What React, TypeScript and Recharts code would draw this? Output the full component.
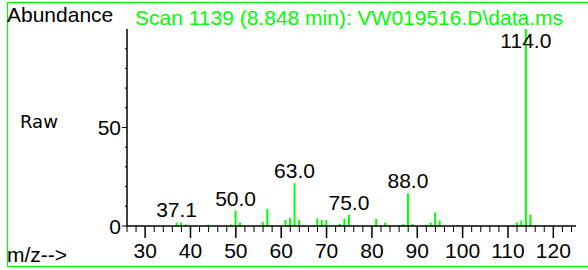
import { BarChart, Bar, XAxis, YAxis, LabelList, Customized } from 'recharts';

const mz = [37, 38, 39, 44, 49, 50, 51, 56, 57, 61, 62, 63, 64, 65, 68, 69, 70, 72, 73, 74, 75, 77, 81, 83, 84, 86, 87, 88, 89, 92, 93, 94, 95, 99, 111, 112, 113, 114, 115, 116];
const abundance = [1.8, 1.8, 0.8, 0.7, 0.8, 7.8, 1.8, 2, 8.7, 3, 4, 21.7, 3, 0.4, 3.8, 3, 3, 0.5, 1, 3.7, 5.7, 0.4, 3.7, 1.8, 0.5, 0.3, 0.9, 16.5, 1, 0.6, 1.8, 6.8, 2.8, 0.5, 0.5, 1.8, 2.8, 100, 5.7, 0.5];

const labelMz = [37, 50, 63, 75, 88, 114];
const labelText = ['37.1', '50.0', '63.0', '75.0', '88.0', '114.0'];

const xMajorTicks = [30, 40, 50, 60, 70, 80, 90, 100, 110, 120];
const xTicks = Array.from({ length: 50 }, (_, i) => 26 + i * 2);
const yTicks = [0, 10, 20, 30, 40, 50, 60, 70, 80, 90];
const yLabels = [0, 50];

const title = 'Scan 1139 (8.848 min): VW019516.D\\data.ms';

const data = mz.map((m, i) => {
  const k = labelMz.indexOf(m);
  return { mz: m, value: abundance[i], label: k >= 0 ? labelText[k] : '' };
});

const GREEN = '#00ff00';
const FONT = '"Liberation Sans", Arial, sans-serif';

const XTick = (props: any) => {
  const { x, y, payload } = props;
  const major = xMajorTicks.includes(payload.value);
  return (
    <g>
      <line x1={x} y1={y} x2={x} y2={y + (major ? 12 : 6)} stroke="#000" strokeWidth={major ? 1.5 : 1} />
      {major && (
        <text x={x} y={y + 32} textAnchor="middle" fontSize={21} fontFamily={FONT} fill="#000">
          {payload.value}
        </text>
      )}
    </g>
  );
};

const YTick = (props: any) => {
  const { x, y, payload } = props;
  const major = yLabels.includes(payload.value);
  return (
    <g>
      <line x1={x} y1={y} x2={x - (major ? 5 : 2)} y2={y} stroke="#000" />
      {major && (
        <text x={x - 6} y={y + 7.5} textAnchor="end" fontSize={21} fontFamily={FONT} fill="#000">
          {payload.value}
        </text>
      )}
    </g>
  );
};

const PeakLabel = (props: any) => {
  const { x, y, width, value } = props;
  if (!value) return null;
  const ty = Math.max(y - 5, 48);
  return (
    <text x={x + width / 2} y={ty} textAnchor="middle" fontSize={21} fontFamily={FONT} fill="#000">
      {value}
    </text>
  );
};

const Decor = () => (
  <g>
    <rect x={7.5} y={2.5} width={590} height={264} fill="none" stroke={GREEN} strokeWidth={1.2} />
    <text x={7} y={22} fontSize={21} fontFamily={FONT} fill="#000">Abundance</text>
    <text x={135} y={25} fontSize={21} fontFamily={FONT} fill={GREEN}>{title}</text>
    <text x={20} y={128} fontSize={18} fontFamily='"DejaVu Sans", sans-serif' fill="#000">Raw</text>
    <text x={7} y={262} fontSize={21} fontFamily={FONT} fill="#000">m/z--&gt;</text>
  </g>
);

export default function App() {
  return (
    <div style={{ position: 'absolute', left: 0, top: 0 }}>
      <BarChart
        width={588}
        height={270}
        data={data}
        margin={{ top: 29, right: 12, left: 0, bottom: 0 }}
        style={{ background: '#fff' }}
      >
        <XAxis
          dataKey="mz"
          type="number"
          domain={[26, 125]}
          ticks={xTicks}
          interval={0}
          height={44}
          tickSize={0}
          tickMargin={0}
          tickLine={false}
          axisLine={{ stroke: '#000', strokeWidth: 1.5 }}
          tick={<XTick />}
          allowDataOverflow
        />
        <YAxis
          type="number"
          domain={[0, 100]}
          ticks={yTicks}
          interval={0}
          width={127}
          tickSize={0}
          tickMargin={0}
          tickLine={false}
          axisLine={{ stroke: '#000', strokeWidth: 1.5 }}
          tick={<YTick />}
          allowDataOverflow
        />
        <Bar dataKey="value" fill={GREEN} barSize={2} isAnimationActive={false}>
          <LabelList dataKey="label" content={<PeakLabel />} />
        </Bar>
        <Customized component={Decor} />
      </BarChart>
    </div>
  );
}
